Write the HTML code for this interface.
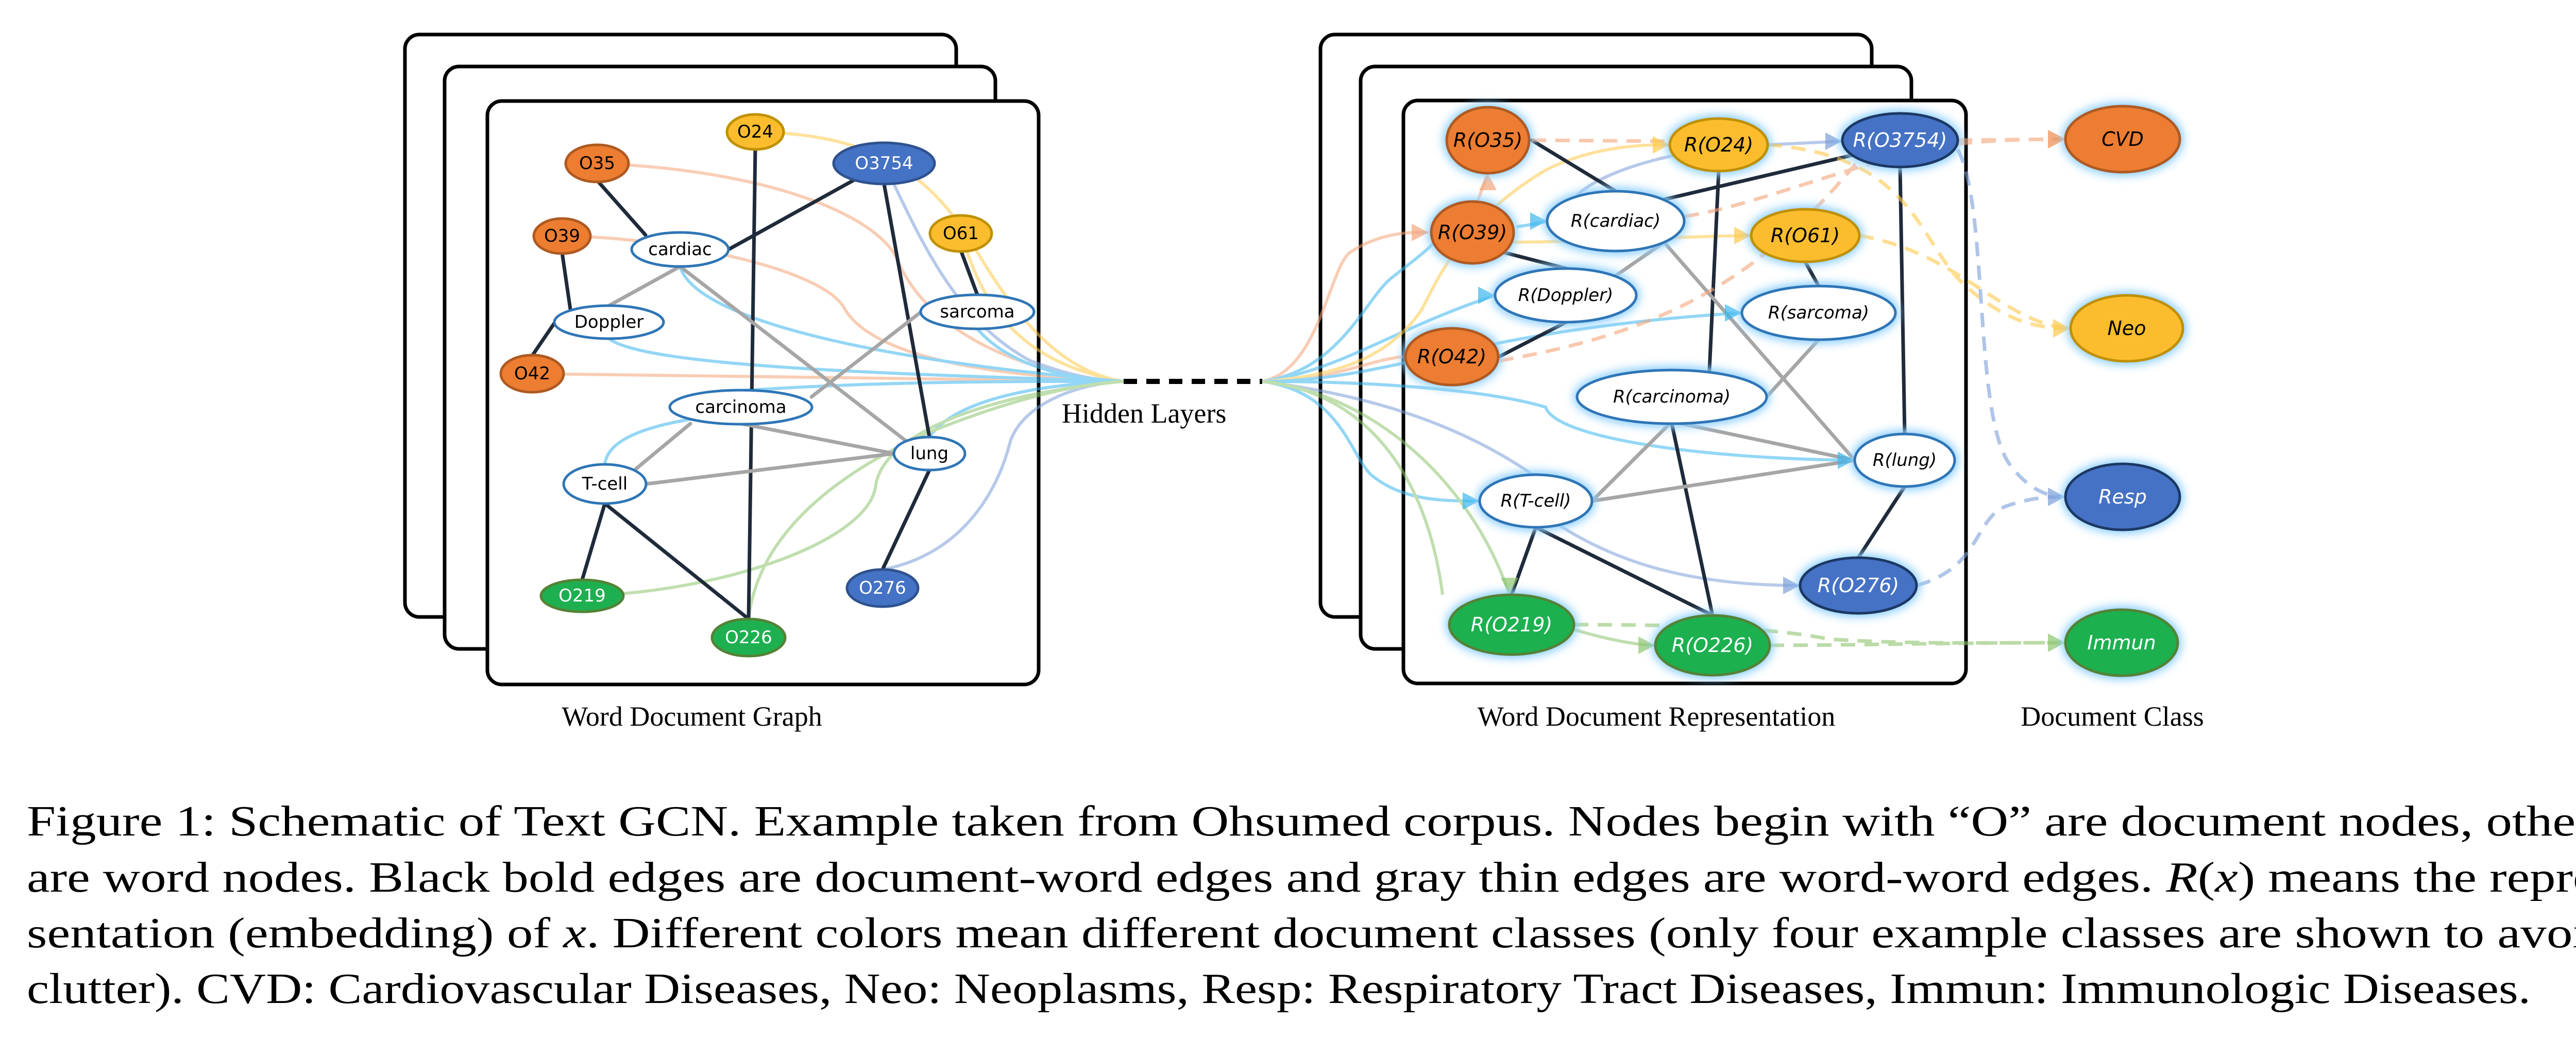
<!DOCTYPE html>
<html><head><meta charset="utf-8"><style>
html,body{margin:0;padding:0;background:#fff;width:5112px;height:2012px;overflow:hidden}
</style></head><body>
<svg width="5112" height="2012" viewBox="0 0 5112 2012" xmlns="http://www.w3.org/2000/svg" style="position:absolute;left:0;top:0">
<defs>
<filter id="glow" x="-40%" y="-40%" width="180%" height="180%">
<feGaussianBlur in="SourceAlpha" stdDeviation="12"/><feOffset dx="0" dy="0"/>
<feFlood flood-color="#8fd0ff"/><feComposite operator="in" in2="SourceAlpha"/>
<feGaussianBlur stdDeviation="10"/>
<feMerge><feMergeNode/><feMergeNode/><feMergeNode in="SourceGraphic"/></feMerge>
</filter>
</defs>
<g fill="#fff" stroke="#000" stroke-width="7">
<rect x="786" y="67" width="1070" height="1130" rx="28"/>
<rect x="863" y="129" width="1069" height="1130" rx="28"/>
<rect x="946" y="196" width="1070" height="1132" rx="28"/>
<rect x="2563" y="67" width="1070" height="1130" rx="28"/>
<rect x="2641" y="129" width="1069" height="1130" rx="28"/>
<rect x="2724" y="195" width="1092" height="1131" rx="28"/>
</g>
<g fill="none" stroke-width="6" opacity="0.55">
<path d="M1466,256 C1700,260 1800,340 1880,460 C1960,600 2050,720 2181,740" stroke="#ffc94a"/>
<path d="M1865,453 C1900,560 1950,700 2181,740" stroke="#ffc94a"/>
<path d="M1159,317 C1500,330 1700,420 1740,500 C1800,650 2000,730 2181,740" stroke="#f4a57a"/>
<path d="M1091,458 C1300,460 1600,520 1640,600 C1700,700 1950,730 2181,740" stroke="#f4a57a"/>
<path d="M1033,725 C1600,730 1900,735 2181,740" stroke="#f4a57a"/>
<path d="M1716,317 C1780,450 1850,620 2000,700 C2080,730 2130,738 2181,740" stroke="#7b9ed8"/>
<path d="M1320,517 C1350,620 1700,700 2181,740" stroke="#3cb6ee"/>
<path d="M1182,657 C1250,710 1700,725 2181,740" stroke="#3cb6ee"/>
<path d="M1897,638 C1950,700 2050,735 2181,740" stroke="#3cb6ee"/>
<path d="M1438,758 C1700,740 1950,740 2181,740" stroke="#3cb6ee"/>
<path d="M1174,901 C1180,840 1300,820 1360,810" stroke="#3cb6ee"/>
<path d="M1804,848 C1850,780 2000,745 2181,740" stroke="#3cb6ee"/>
<path d="M1713,1105 C1900,1070 1950,900 1960,860 C1980,790 2080,745 2181,740" stroke="#7b9ed8"/>
<path d="M1130,1156 C1400,1150 1690,1050 1700,940 C1720,830 1950,760 2181,740" stroke="#8ec46e"/>
<path d="M1453,1201 C1470,1050 1600,930 1800,840 C1950,780 2080,745 2181,740" stroke="#8ec46e"/>
</g>
<g stroke="#1f2a3a" stroke-width="7" stroke-linecap="round">
<line x1="1159" y1="350" x2="1253" y2="456"/>
<line x1="1716" y1="317" x2="1414" y2="484"/>
<line x1="1466" y1="288" x2="1453" y2="1201"/>
<line x1="1091" y1="490" x2="1107" y2="600"/>
<line x1="1076" y1="627" x2="1033" y2="690"/>
<line x1="1716" y1="357" x2="1804" y2="848"/>
<line x1="1865" y1="486" x2="1897" y2="572"/>
<line x1="1804" y1="912" x2="1713" y2="1105"/>
<line x1="1174" y1="977" x2="1130" y2="1125"/>
<line x1="1174" y1="977" x2="1453" y2="1201"/>
</g>
<g stroke="#a6a6a6" stroke-width="7" stroke-linecap="round">
<line x1="1320" y1="517" x2="1182" y2="593"/>
<line x1="1320" y1="517" x2="1758" y2="855"/>
<line x1="1788" y1="605" x2="1575" y2="770"/>
<line x1="1340" y1="822" x2="1234" y2="910"/>
<line x1="1438" y1="822" x2="1735" y2="880"/>
<line x1="1254" y1="939" x2="1735" y2="880"/>
</g>
<line x1="2181" y1="740" x2="2450" y2="740" stroke="#000" stroke-width="10" stroke-dasharray="26,18"/>
<g fill="none" stroke-width="6" opacity="0.55">
<path d="M2450,740 C2560,720 2580,520 2620,490 C2680,450 2740,450 2773,451" stroke="#f4a57a"/>
<path d="M2450,740 C2600,720 2650,580 2700,540 C2750,500 2780,480 2790,460" stroke="#3cb6ee"/>
<path d="M2450,740 C2600,720 2700,640 2902,573" stroke="#3cb6ee"/>
<path d="M2450,740 C2600,735 2650,700 2723,692" stroke="#f4a57a"/>
<path d="M2450,740 C2600,730 2700,690 2760,600 C2800,520 2850,420 3000,330 C3100,280 3200,281 3241,281" stroke="#ffc94a"/>
<path d="M2450,740 C2700,740 2850,640 3381,607" stroke="#3cb6ee"/>
<path d="M2450,740 C2700,740 2900,760 3000,790 C3020,850 3300,890 3600,893" stroke="#3cb6ee"/>
<path d="M2450,740 C2600,760 2620,880 2660,920 C2720,972 2800,972 2872,972" stroke="#3cb6ee"/>
<path d="M2450,740 C2600,760 2800,800 2975,921" stroke="#7b9ed8"/>
<path d="M2450,740 C2650,760 2850,920 2930,1154" stroke="#8ec46e"/>
<path d="M2450,740 C2650,760 2770,920 2800,1154" stroke="#8ec46e"/>
<path d="M3020,1015 C3150,1100 3300,1136 3494,1136" stroke="#7b9ed8"/>
<path d="M3050,1220 C3150,1250 3200,1252 3213,1252" stroke="#8ec46e"/>
<path d="M2888,336 C2870,380 2870,400 2858,391" stroke="#f4a57a"/>
<path d="M2943,440 C2980,435 3000,430 3003,429" stroke="#3cb6ee"/>
<path d="M2900,470 C3100,470 3300,457 3399,457" stroke="#ffc94a"/>
<path d="M3431,281 C3500,278 3550,275 3576,274" stroke="#7b9ed8"/>
<path d="M3060,380 C3100,340 3200,310 3260,300" stroke="#7b9ed8"/>
</g>
<g stroke="#1f2a3a" stroke-width="7" stroke-linecap="round">
<line x1="2973" y1="272" x2="3136" y2="371"/>
<line x1="3230" y1="387" x2="3600" y2="300"/>
<line x1="3336" y1="332" x2="3318" y2="718"/>
<line x1="2920" y1="490" x2="3040" y2="521"/>
<line x1="3040" y1="625" x2="2910" y2="692"/>
<line x1="3688" y1="324" x2="3697" y2="842"/>
<line x1="3504" y1="508" x2="3530" y2="555"/>
<line x1="3697" y1="944" x2="3607" y2="1082"/>
<line x1="2981" y1="1023" x2="2934" y2="1154"/>
<line x1="2981" y1="1023" x2="3324" y2="1194"/>
<line x1="3245" y1="822" x2="3324" y2="1194"/>
</g>
<g stroke="#a6a6a6" stroke-width="7" stroke-linecap="round">
<line x1="3230" y1="470" x2="3136" y2="535"/>
<line x1="3230" y1="470" x2="3600" y2="893"/>
<line x1="3530" y1="659" x2="3429" y2="770"/>
<line x1="3245" y1="818" x2="3090" y2="972"/>
<line x1="3245" y1="818" x2="3600" y2="893"/>
<line x1="3090" y1="972" x2="3600" y2="893"/>
</g>
<g fill="none" stroke-width="7" stroke-dasharray="28,18" opacity="0.6">
<path d="M2973,272 L3241,274" stroke="#f4a57a"/>
<path d="M3800,272 L4000,270" stroke="#f4a57a"/>
<path d="M3270,420 C3400,400 3560,330 3800,272" stroke="#f4a57a"/>
<path d="M2910,700 C3200,650 3400,560 3600,320 C3700,290 3800,270 4000,270" stroke="#f4a57a"/>
<path d="M3431,281 C3700,300 3720,450 3800,540 C3880,620 3950,637 4010,637" stroke="#ffc94a"/>
<path d="M3609,457 C3800,490 3880,620 4010,637" stroke="#ffc94a"/>
<path d="M3800,290 C3860,400 3830,800 3900,900 C3930,940 3960,960 4000,964" stroke="#7b9ed8"/>
<path d="M3720,1136 C3850,1100 3830,1000 3900,980 C3930,970 3960,964 4000,964" stroke="#7b9ed8"/>
<path d="M3055,1212 C3300,1212 3450,1220 3550,1240 C3700,1250 3850,1247 4000,1247" stroke="#8ec46e"/>
<path d="M3435,1252 C3600,1252 3800,1247 4000,1247" stroke="#8ec46e"/>
</g>
<g opacity="0.7">
<polygon points="4010,270 3975,252 3975,288" fill="#f08a4b"/>
<polygon points="4019,637 3985,619 3985,655" fill="#ffc94a"/>
<polygon points="4009,964 3975,946 3975,982" fill="#7b9ed8"/>
<polygon points="4009,1247 3975,1229 3975,1265" fill="#8ec46e"/>
<polygon points="3241,281 3208,264 3208,298" fill="#ffc94a"/>
<polygon points="3576,274 3543,257 3543,291" fill="#7b9ed8"/>
<polygon points="3399,457 3366,440 3366,474" fill="#ffc94a"/>
<polygon points="3003,429 2970,412 2970,446" fill="#3cb6ee"/>
<polygon points="2773,451 2740,434 2740,468" fill="#f4a57a"/>
<polygon points="2902,573 2869,556 2869,590" fill="#3cb6ee"/>
<polygon points="3381,607 3348,590 3348,624" fill="#3cb6ee"/>
<polygon points="3600,893 3567,876 3567,910" fill="#3cb6ee"/>
<polygon points="2872,972 2839,955 2839,989" fill="#3cb6ee"/>
<polygon points="3494,1136 3461,1119 3461,1153" fill="#7b9ed8"/>
<polygon points="3213,1252 3180,1235 3180,1269" fill="#8ec46e"/>
<polygon points="2930,1154 2913,1121 2947,1121" fill="#8ec46e"/>
<polygon points="2888,336 2871,369 2905,369" fill="#f4a57a"/>
</g>
<g font-family="DejaVu Sans, sans-serif" font-size="34" text-anchor="middle" dominant-baseline="central" stroke-width="5">
<g fill="#ed7d31" stroke="#ae5a21">
<ellipse cx="1159" cy="317" rx="61" ry="36"/><ellipse cx="1091" cy="458" rx="55" ry="34"/><ellipse cx="1033" cy="725" rx="61" ry="36"/></g>
<g fill="#fbbd2e" stroke="#bf9000"><ellipse cx="1466" cy="256" rx="55" ry="34"/><ellipse cx="1865" cy="453" rx="60" ry="35"/></g>
<g fill="#4472c4" stroke="#2f528f"><ellipse cx="1716" cy="317" rx="98" ry="40"/><ellipse cx="1713" cy="1141" rx="69" ry="36"/></g>
<g fill="#1eb050" stroke="#548235"><ellipse cx="1130" cy="1156" rx="80" ry="31"/><ellipse cx="1453" cy="1237" rx="71" ry="36"/></g>
<g fill="#fff" stroke="#2e75b6"><ellipse cx="1320" cy="484" rx="94" ry="33"/><ellipse cx="1897" cy="605" rx="110" ry="33"/><ellipse cx="1182" cy="625" rx="106" ry="32"/><ellipse cx="1438" cy="790" rx="138" ry="33"/><ellipse cx="1804" cy="880" rx="69" ry="32"/><ellipse cx="1174" cy="939" rx="80" ry="38"/></g>
<g stroke="none" fill="#000"><text x="1159" y="317">O35</text><text x="1091" y="458">O39</text><text x="1033" y="725">O42</text><text x="1466" y="256">O24</text><text x="1865" y="453">O61</text>
<text x="1320" y="484">cardiac</text><text x="1897" y="605">sarcoma</text><text x="1182" y="625">Doppler</text><text x="1438" y="790">carcinoma</text><text x="1804" y="880">lung</text><text x="1174" y="939">T-cell</text></g>
<g stroke="none" fill="#fff"><text x="1716" y="317">O3754</text><text x="1713" y="1141">O276</text><text x="1130" y="1156">O219</text><text x="1453" y="1237">O226</text></g>
</g>
<g font-family="DejaVu Sans, sans-serif" font-style="italic" font-size="38" text-anchor="middle" dominant-baseline="central" stroke-width="5" filter="url(#glow)">
<g fill="#ed7d31" stroke="#ae5a21"><ellipse cx="2888" cy="272" rx="80" ry="64"/><ellipse cx="2858" cy="451" rx="80" ry="60"/><ellipse cx="2818" cy="692" rx="90" ry="55"/><ellipse cx="4120" cy="270" rx="111" ry="64"/></g>
<g fill="#fbbd2e" stroke="#bf9000"><ellipse cx="3336" cy="281" rx="95" ry="51"/><ellipse cx="3504" cy="457" rx="105" ry="51"/><ellipse cx="4128" cy="637" rx="109" ry="64"/></g>
<g fill="#4472c4" stroke="#1f3864"><ellipse cx="3688" cy="272" rx="112" ry="52"/><ellipse cx="3607" cy="1136" rx="113" ry="54"/><ellipse cx="4120" cy="964" rx="111" ry="64"/></g>
<g fill="#1eb050" stroke="#548235"><ellipse cx="2934" cy="1212" rx="121" ry="58"/><ellipse cx="3324" cy="1252" rx="111" ry="58"/><ellipse cx="4118" cy="1247" rx="109" ry="64"/></g>
<g fill="#fff" stroke="#2e75b6"><ellipse cx="3136" cy="429" rx="133" ry="58"/><ellipse cx="3039" cy="573" rx="137" ry="52"/><ellipse cx="3530" cy="607" rx="149" ry="52"/><ellipse cx="3245" cy="770" rx="184" ry="52"/><ellipse cx="3697" cy="893" rx="97" ry="51"/><ellipse cx="2981" cy="972" rx="109" ry="51"/></g>
</g>
<g font-family="DejaVu Sans, sans-serif" font-style="italic" font-size="38" text-anchor="middle" dominant-baseline="central">
<g fill="#000"><text x="2888" y="272">R(O35)</text><text x="2858" y="451">R(O39)</text><text x="2818" y="692">R(O42)</text><text x="3336" y="281">R(O24)</text><text x="3504" y="457">R(O61)</text>
<text x="3136" y="429" font-size="34">R(cardiac)</text><text x="3039" y="573" font-size="34">R(Doppler)</text><text x="3530" y="607" font-size="34">R(sarcoma)</text><text x="3245" y="770" font-size="34">R(carcinoma)</text><text x="3697" y="893" font-size="34">R(lung)</text><text x="2981" y="972" font-size="34">R(T-cell)</text>
<text x="4120" y="270">CVD</text><text x="4128" y="637">Neo</text></g>
<g fill="#fff"><text x="3688" y="272">R(O3754)</text><text x="3607" y="1136">R(O276)</text><text x="2934" y="1212">R(O219)</text><text x="3324" y="1252">R(O226)</text><text x="4120" y="964">Resp</text><text x="4118" y="1247">Immun</text></g>
</g>
<g font-family="Liberation Serif, serif" font-size="54" fill="#000">
<text x="2061" y="820">Hidden Layers</text>
<text x="1343" y="1408" text-anchor="middle">Word Document Graph</text>
<text x="3215" y="1408" text-anchor="middle">Word Document Representation</text>
<text x="4100" y="1408" text-anchor="middle">Document Class</text>
</g>
<g font-family="Liberation Serif, serif" font-size="84" fill="#000">
<text x="52" y="1621" textLength="5020" lengthAdjust="spacingAndGlyphs">Figure 1: Schematic of Text GCN. Example taken from Ohsumed corpus. Nodes begin with “O” are document nodes, others</text>
<text x="52" y="1730" textLength="5020" lengthAdjust="spacingAndGlyphs">are word nodes. Black bold edges are document-word edges and gray thin edges are word-word edges. <tspan font-style="italic">R</tspan>(<tspan font-style="italic">x</tspan>) means the repre-</text>
<text x="52" y="1838" textLength="5020" lengthAdjust="spacingAndGlyphs">sentation (embedding) of <tspan font-style="italic">x</tspan>. Different colors mean different document classes (only four example classes are shown to avoid</text>
<text x="52" y="1946" textLength="4860" lengthAdjust="spacingAndGlyphs">clutter). CVD: Cardiovascular Diseases, Neo: Neoplasms, Resp: Respiratory Tract Diseases, Immun: Immunologic Diseases.</text>
</g>
</svg>
</body></html>
